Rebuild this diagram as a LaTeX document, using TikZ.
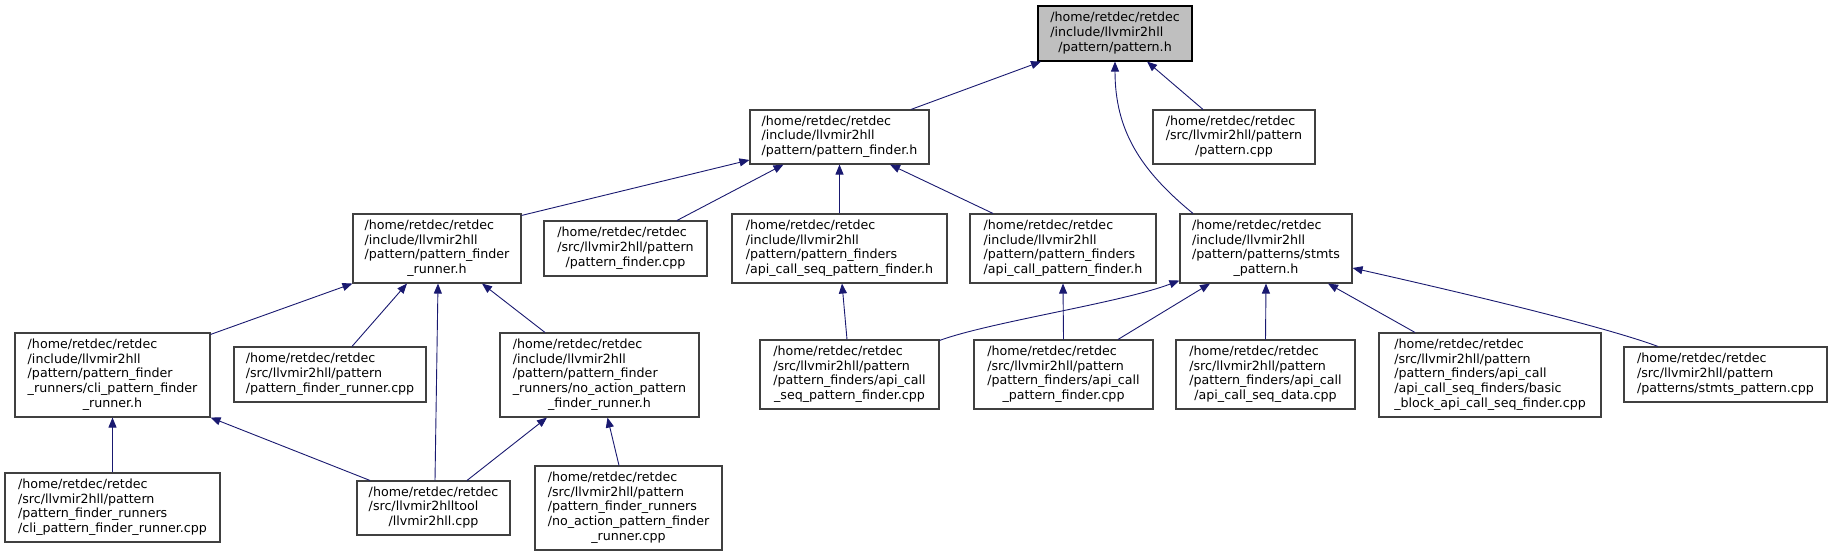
\documentclass[tikz,border=0pt]{standalone}
\usepackage{fontspec}
\setmainfont{DejaVu Sans}
\usetikzlibrary{arrows.meta}
\definecolor{edgeblue}{HTML}{191970}
\definecolor{boxline}{HTML}{404040}
\definecolor{curfill}{HTML}{BFBFBF}
\newcommand{\dlab}[2]{\begin{tabular}{@{}l@{}}#1\\\multicolumn{1}{@{}c@{}}{#2}\end{tabular}}
\begin{document}
\begin{tikzpicture}[x=1pt,y=-1pt,
  box/.style={draw=boxline, line width=1.1pt, fill=white, inner sep=0pt,
    font=\fontsize{12.65}{14.67}\selectfont},
  edge/.style={draw=edgeblue, line width=0.9pt, -{Triangle[length=10pt,width=8pt]}}]
\useasboundingbox (0,0) rectangle (1833,556);
% row 0
\node[box, draw=black, fill=curfill, minimum width=154pt, minimum height=55pt] (P) at (1115,33.5)
  {\dlab{/home/retdec/retdec\\/include/llvmir2hll}{/pattern/pattern.h}};
% row 1
\node[box, minimum width=179pt, minimum height=54pt] (PF) at (839.5,137)
  {\dlab{/home/retdec/retdec\\/include/llvmir2hll}{/pattern/pattern\_finder.h}};
\node[box, minimum width=162pt, minimum height=54pt] (PC) at (1234,137)
  {\dlab{/home/retdec/retdec\\/src/llvmir2hll/pattern}{/pattern.cpp}};
% row 2
\node[box, minimum width=168pt, minimum height=69pt] (PFR) at (437,248.5)
  {\dlab{/home/retdec/retdec\\/include/llvmir2hll\\/pattern/pattern\_finder}{\_runner.h}};
\node[box, minimum width=163pt, minimum height=55pt] (PFC) at (625.5,248.5)
  {\dlab{/home/retdec/retdec\\/src/llvmir2hll/pattern}{/pattern\_finder.cpp}};
\node[box, minimum width=215pt, minimum height=69pt] (ASPH) at (839.5,248.5)
  {\dlab{/home/retdec/retdec\\/include/llvmir2hll\\/pattern/pattern\_finders}{/api\_call\_seq\_pattern\_finder.h}};
\node[box, minimum width=186pt, minimum height=69pt] (APH) at (1063,248.5)
  {\dlab{/home/retdec/retdec\\/include/llvmir2hll\\/pattern/pattern\_finders}{/api\_call\_pattern\_finder.h}};
\node[box, minimum width=172pt, minimum height=69pt] (SPH) at (1266,248.5)
  {\dlab{/home/retdec/retdec\\/include/llvmir2hll\\/pattern/patterns/stmts}{\_pattern.h}};
% row 3
\node[box, minimum width=195pt, minimum height=84pt] (CLIH) at (112.5,375)
  {\dlab{/home/retdec/retdec\\/include/llvmir2hll\\/pattern/pattern\_finder\\\_runners/cli\_pattern\_finder}{\_runner.h}};
\node[box, minimum width=192pt, minimum height=55pt] (PFRC) at (330,374.5)
  {\dlab{/home/retdec/retdec\\/src/llvmir2hll/pattern}{/pattern\_finder\_runner.cpp}};
\node[box, minimum width=199pt, minimum height=84pt] (NAH) at (599.5,375)
  {\dlab{/home/retdec/retdec\\/include/llvmir2hll\\/pattern/pattern\_finder\\\_runners/no\_action\_pattern}{\_finder\_runner.h}};
\node[box, minimum width=179pt, minimum height=69pt] (ASPC) at (849.5,374.5)
  {\dlab{/home/retdec/retdec\\/src/llvmir2hll/pattern\\/pattern\_finders/api\_call}{\_seq\_pattern\_finder.cpp}};
\node[box, minimum width=179pt, minimum height=69pt] (APC) at (1063.5,374.5)
  {\dlab{/home/retdec/retdec\\/src/llvmir2hll/pattern\\/pattern\_finders/api\_call}{\_pattern\_finder.cpp}};
\node[box, minimum width=179pt, minimum height=69pt] (ASD) at (1265.5,374.5)
  {\dlab{/home/retdec/retdec\\/src/llvmir2hll/pattern\\/pattern\_finders/api\_call}{/api\_call\_seq\_data.cpp}};
\node[box, minimum width=222pt, minimum height=84pt] (BB) at (1490,375)
  {\dlab{/home/retdec/retdec\\/src/llvmir2hll/pattern\\/pattern\_finders/api\_call\\/api\_call\_seq\_finders/basic}{\_block\_api\_call\_seq\_finder.cpp}};
\node[box, minimum width=203pt, minimum height=55pt] (SPC) at (1725.5,374.5)
  {\dlab{/home/retdec/retdec\\/src/llvmir2hll/pattern}{/patterns/stmts\_pattern.cpp}};
% row 4
\node[box, minimum width=215pt, minimum height=69pt] (CLIC) at (112.5,507.5)
  {\dlab{/home/retdec/retdec\\/src/llvmir2hll/pattern\\/pattern\_finder\_runners}{/cli\_pattern\_finder\_runner.cpp}};
\node[box, minimum width=153pt, minimum height=54pt] (LL) at (433.5,508)
  {\dlab{/home/retdec/retdec\\/src/llvmir2hlltool}{/llvmir2hll.cpp}};
\node[box, minimum width=187pt, minimum height=84pt] (NAC) at (628.5,508)
  {\dlab{/home/retdec/retdec\\/src/llvmir2hll/pattern\\/pattern\_finder\_runners\\/no\_action\_pattern\_finder}{\_runner.cpp}};
% edges
\draw[edge] ([xshift=71.5pt]PF.north) -- ([xshift=-74pt]P.south);
\draw[edge] ([xshift=-31pt]PC.north) -- ([xshift=32pt]P.south);
\draw[edge] ([xshift=-73pt]SPH.north) .. controls (1140,170) and (1115,130) .. (P.south);
\draw[edge] ([yshift=-2pt]PFR.north east) -- ([yshift=-23pt]PF.west);
\draw[edge] ([xshift=51.5pt]PFC.north) -- ([xshift=-56pt]PF.south);
\draw[edge] (ASPH.north) -- (PF.south);
\draw[edge] ([xshift=-70pt]APH.north) -- ([xshift=50.5pt]PF.south);
\draw[edge] ([yshift=-2pt]CLIH.north east) -- (PFR.south west);
\draw[edge] ([xshift=22pt]PFRC.north) -- ([xshift=-30pt]PFR.south);
\draw[edge] ([xshift=1.5pt]LL.north) -- ([xshift=1pt]PFR.south);
\draw[edge] ([xshift=-54.5pt]NAH.north) -- ([xshift=45pt]PFR.south);
\draw[edge] (CLIC.north) -- (CLIH.south);
\draw[edge] ([xshift=-63.5pt]LL.north) -- (CLIH.south east);
\draw[edge] ([xshift=33.5pt]LL.north) -- ([xshift=-52.5pt]NAH.south);
\draw[edge] ([xshift=-9.5pt]NAC.north) -- ([xshift=8pt]NAH.south);
\draw[edge] ([xshift=-2.5pt]ASPC.north) -- ([xshift=2.5pt]ASPH.south);
\draw[edge] (APC.north) -- (APH.south);
\draw[edge] ([yshift=-1pt]ASPC.north east) .. controls (990,322) and (1120,303) .. ([yshift=3pt]SPH.south west);
\draw[edge] ([xshift=54.5pt]APC.north) -- ([xshift=-56pt]SPH.south);
\draw[edge] (ASD.north) -- (SPH.south);
\draw[edge] ([xshift=-75pt]BB.north) -- ([xshift=62pt]SPH.south);
\draw[edge] ([xshift=-67.5pt]SPC.north) .. controls (1600,325) and (1450,290) .. ([yshift=-19.5pt]SPH.east);
\end{tikzpicture}
\end{document}
